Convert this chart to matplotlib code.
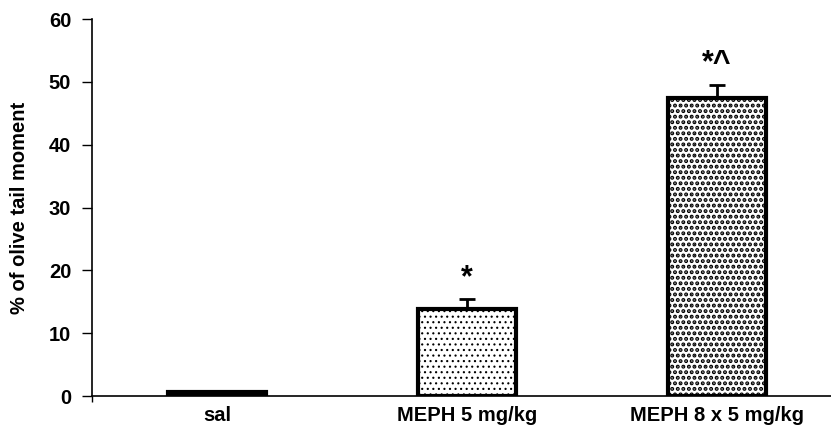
import matplotlib
matplotlib.use("Agg")
import matplotlib.pyplot as plt
import numpy as np

categories = ["sal", "MEPH 5 mg/kg", "MEPH 8 x 5 mg/kg"]
values = [0.7, 13.8, 47.5]
errors = [0.0, 1.6, 2.0]
annotations = ["", "*", "*^"]
yticks = [0, 10, 20, 30, 40, 50, 60]

plt.rcParams['font.family'] = ['Liberation Sans', 'DejaVu Sans']

fig = plt.figure(figsize=(8.31, 4.34), dpi=100)
ax = fig.add_axes([92/831, (434-396)/434, 750/831, 377/434])

x = np.arange(len(categories))
hatches = ["...", "...", "..."]
hlw = [0.8, 0.8, 2.0]
for i in range(len(categories)):
    with plt.rc_context({'hatch.linewidth': hlw[i], 'hatch.color': 'black'}):
        ax.bar(x[i], values[i], width=0.395, color='white', edgecolor='black',
               linewidth=3, hatch=hatches[i], zorder=3)
    if errors[i] > 0:
        ax.errorbar(x[i], values[i], yerr=[[0], [errors[i]]], fmt='none',
                    ecolor='black', elinewidth=2, capsize=6, capthick=2, zorder=2)
    if annotations[i]:
        ax.text(x[i], values[i] + errors[i] + 1.0, annotations[i], ha='center',
                va='bottom', fontsize=22, fontweight='bold')

ax.set_xlim(-0.5, 2.5)
ax.set_ylim(0, 60)
ax.set_yticks(yticks)
ax.set_yticklabels([str(t) for t in yticks], fontsize=14.5, fontweight='bold')
ax.set_xticks(x)
ax.set_xticklabels(categories, fontsize=14.5, fontweight='bold')
ax.tick_params(axis='x', length=0, pad=7)
ax.tick_params(axis='y', length=7, width=1, direction='out', pad=8)
ax.set_xticks([-0.5], minor=True)
ax.tick_params(axis='x', which='minor', length=4, width=1)
ax.spines['top'].set_visible(False)
ax.spines['right'].set_visible(False)
ax.spines['left'].set_linewidth(1.2)
ax.spines['bottom'].set_linewidth(1.2)
ax.set_ylabel("% of olive tail moment", fontsize=14.5, fontweight='bold', labelpad=14)

fig.savefig("out.png", dpi=100)
